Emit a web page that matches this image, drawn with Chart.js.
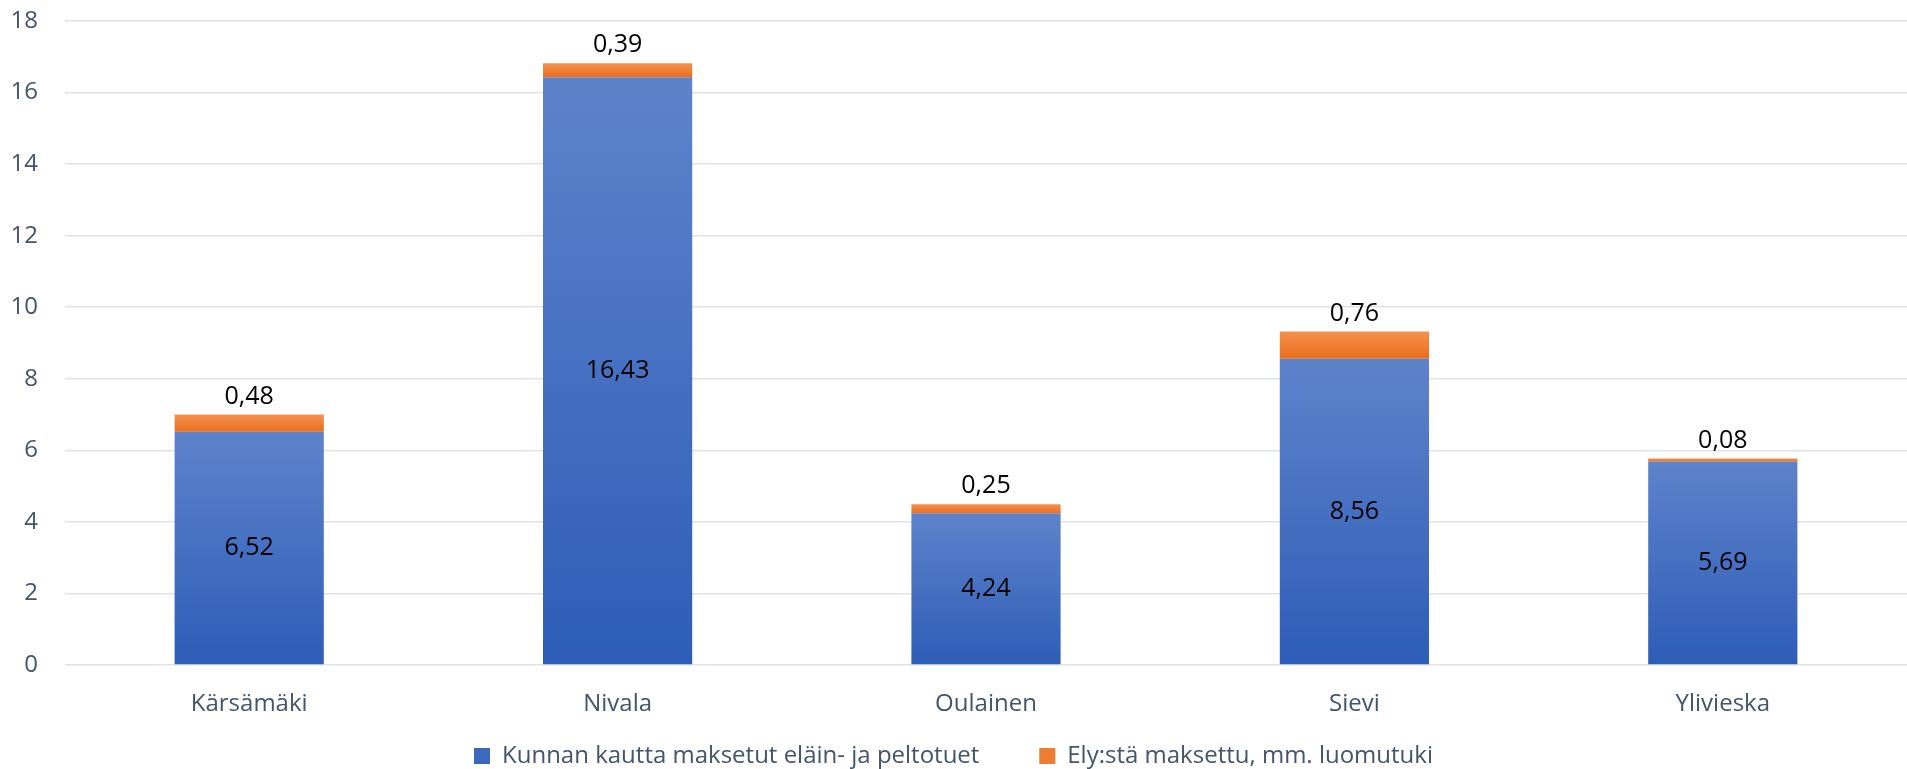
<!DOCTYPE html>
<html>
<head>
<meta charset="utf-8">
<script src="https://cdn.jsdelivr.net/npm/chart.js@4/dist/chart.umd.min.js"></script>
<style>
    html, body { margin: 0; padding: 0; background: #ffffff; }
    #wrap { width: 1907px; height: 769px; position: relative; }
</style>
</head>
<body>
<div id="wrap"><canvas id="tukiChart"></canvas></div>
<script>
// Chart data
const municipalities = ['Kärsämäki', 'Nivala', 'Oulainen', 'Sievi', 'Ylivieska'];
const kuntaTuet = [6.52, 16.43, 4.24, 8.56, 5.69];
const elyTuet = [0.48, 0.39, 0.25, 0.76, 0.08];
const seriesNames = ['Kunnan kautta maksetut eläin- ja peltotuet', 'Ely:stä maksettu, mm. luomutuki'];
const yTicks = [0, 2, 4, 6, 8, 10, 12, 14, 16, 18];

const textGrey = '#44546A';
const fontFamily = '"Open Sans", "Noto Sans", sans-serif';

// colour stops for each series (top, bottom)
const gradStops = [
    ['#5D83CB', '#2E5DB7'],
    ['#F4914F', '#EA6E1B']
];

function fmt(v) {
    return v.toFixed(2).replace('.', ',');
}

/**
 * Build a vertical gradient covering one bar segment
 */
function barGradient(context) {
    const chart = context.chart;
    const y = chart.scales.y;
    const fallback = gradStops[context.datasetIndex][1];
    if (!y || context.type !== 'data') {
        return fallback;
    }
    const i = context.dataIndex;
    let base = 0;
    let top = kuntaTuet[i];
    if (context.datasetIndex === 1) {
        base = kuntaTuet[i];
        top = kuntaTuet[i] + elyTuet[i];
    }
    const yTop = y.getPixelForValue(top);
    const yBase = y.getPixelForValue(base);
    if (!isFinite(yTop) || !isFinite(yBase) || yTop === yBase) {
        return fallback;
    }
    const g = chart.ctx.createLinearGradient(0, yTop, 0, yBase);
    g.addColorStop(0, gradStops[context.datasetIndex][0]);
    g.addColorStop(1, gradStops[context.datasetIndex][1]);
    return g;
}

// Draws value labels: inside for the blue part, above for the orange
const valueLabels = {
    id: 'valueLabels',
    afterDatasetsDraw(chart) {
        const ctx = chart.ctx;
        ctx.save();
        ctx.font = '25px ' + fontFamily;
        ctx.fillStyle = '#000000';
        ctx.textAlign = 'center';
        ctx.textBaseline = 'middle';
        chart.getDatasetMeta(0).data.forEach(function(bar, i) {
            const p = bar.getProps(['x', 'y', 'base'], true);
            ctx.fillText(fmt(kuntaTuet[i]), p.x, (p.y + p.base) / 2);
        });
        chart.getDatasetMeta(1).data.forEach(function(bar, i) {
            const p = bar.getProps(['x', 'y'], true);
            ctx.fillText(fmt(elyTuet[i]), p.x, p.y - 18);
        });
        ctx.restore();
    }
};

const ctx = document.getElementById('tukiChart');
const tukiChart = new Chart(ctx, {
    type: 'bar',
    data: {
        labels: municipalities,
        datasets: [{
            label: seriesNames[0],
            data: kuntaTuet,
            backgroundColor: barGradient,
            borderWidth: 0,
            barPercentage: 0.405,
            categoryPercentage: 1
        }, {
            label: seriesNames[1],
            data: elyTuet,
            backgroundColor: barGradient,
            borderWidth: 0,
            barPercentage: 0.405,
            categoryPercentage: 1
        }]
    },
    options: {
        responsive: true,
        maintainAspectRatio: false,
        animation: false,
        layout: {
            padding: { top: 21, left: 0, right: 0, bottom: -9 }
        },
        plugins: {
            tooltip: { enabled: false },
            legend: {
                position: 'bottom',
                labels: {
                    boxWidth: 16,
                    boxHeight: 16,
                    padding: 10,
                    color: textGrey,
                    font: { family: fontFamily, size: 24 },
                    generateLabels: function(chart) {
                        const items = Chart.defaults.plugins.legend.labels.generateLabels(chart);
                        items.forEach(function(item, k) {
                            item.fillStyle = k === 0 ? '#3D68C0' : '#EF7D30';
                            item.lineWidth = 0;
                            item.strokeStyle = 'rgba(0,0,0,0)';
                            if (k === 0) {
                                item.text = item.text + '\u00A0'.repeat(8);
                            }
                        });
                        return items;
                    }
                }
            }
        },
        scales: {
            x: {
                stacked: true,
                grid: { display: false },
                border: { display: false },
                ticks: {
                    color: textGrey,
                    padding: 17,
                    font: { family: fontFamily, size: 24 }
                },
                afterFit: function(axis) {
                    axis.height = 69;
                }
            },
            y: {
                stacked: true,
                min: 0,
                max: 18,
                afterBuildTicks: function(axis) {
                    axis.ticks = yTicks.map(function(v) { return { value: v }; });
                },
                grid: {
                    color: '#DFE3E9',
                    lineWidth: 1.5,
                    drawTicks: false
                },
                border: { display: false },
                ticks: {
                    color: textGrey,
                    padding: 27,
                    font: { family: fontFamily, size: 24 }
                },
                afterFit: function(axis) {
                    axis.width = 65;
                    axis.paddingTop = 0;
                    axis.paddingBottom = 0;
                }
            }
        }
    },
    plugins: [valueLabels]
});
</script>
</body>
</html>
